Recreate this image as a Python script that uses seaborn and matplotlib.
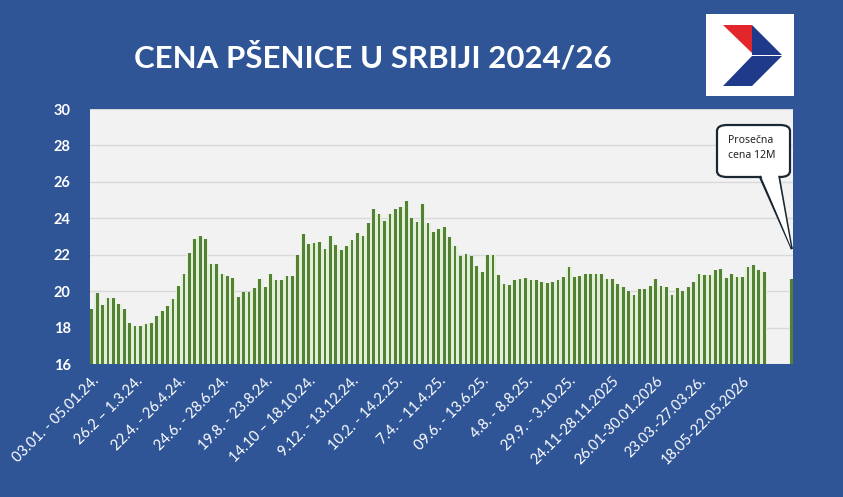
import numpy as np
import pandas as pd
import matplotlib
matplotlib.use("Agg")
import matplotlib.pyplot as plt
import seaborn as sns
from matplotlib.patches import Polygon, Rectangle, FancyBboxPatch
from matplotlib.lines import Line2D

# weekly wheat price in Serbia (din/kg)
prices = [19.0, 19.9, 19.25, 19.6, 19.6, 19.3, 19.0, 18.25, 18.1, 18.1,
          18.2, 18.25, 18.65, 18.9, 19.2, 19.55, 20.3, 20.95, 22.1, 22.85,
          23.0, 22.85, 21.5, 21.5, 20.95, 20.85, 20.7, 19.7, 19.95, 19.95,
          20.15, 20.65,
          20.25, 20.95, 20.6, 20.6, 20.85, 20.85, 22.0, 23.15, 22.6, 22.65,
          22.7, 22.3, 23.0, 22.55, 22.25, 22.5, 22.8, 23.2, 23.0, 23.75,
          24.5, 24.25, 23.85, 24.25, 24.5, 24.6, 24.95, 24.0, 23.8, 24.8,
          23.75, 23.25,
          23.4, 23.5, 22.95, 22.5, 21.95, 22.05, 21.95, 21.4, 21.05, 22.0,
          22.0, 20.9, 20.4, 20.35, 20.6, 20.65, 20.7, 20.6, 20.6, 20.5,
          20.45, 20.5, 20.6, 20.8, 21.3, 20.75, 20.85, 20.95, 20.95, 20.95,
          20.95, 20.65, 20.65,
          20.4, 20.25, 20.0, 19.8, 20.1, 20.1, 20.3, 20.65, 20.3, 20.25,
          19.8, 20.15, 20.0, 20.2, 20.5, 20.95, 20.9, 20.9, 21.15, 21.2,
          20.7, 20.95, 20.8, 20.8, 21.3, 21.45, 21.15, 21.05]
avg_12m = 20.65

week_labels = ["03.01. - 05.01.24.", "26.2 – 1.3.24.", "22.4. - 26.4.24.",
               "24.6. - 28.6.24.", "19.8. - 23.8.24.", "14.10 – 18.10.24.",
               "9.12. - 13.12.24.", "10.2. - 14.2.25.", "7.4. - 11.4.25.",
               "09.6. - 13.6.25.", "4.8. - 8.8.25.", "29.9. - 3.10.25.",
               "24.11-28.11.2025", "26.01-30.01.2026", "23.03.-27.03.26.",
               "18.05-22.05.2026"]

title = "CENA PŠENICE U SRBIJI 2024/26"
callout = "Prosečna\ncena 12M"

gap = 4
n_slots = len(prices) + gap + 1
avg_pos = n_slots - 1

df = pd.DataFrame({"pos": list(range(len(prices))) + [avg_pos],
                   "price": prices + [avg_12m]})

BG = "#2f5597"
GREEN = "#548235"

plt.rcParams["font.family"] = ["Lato", "DejaVu Sans"]

W, H = 843, 497
fig = plt.figure(figsize=(W / 100, H / 100), dpi=100, facecolor=BG)
ax = fig.add_axes([90 / W, 1 - 364 / H, (793 - 90) / W, (364 - 109) / H])
ax.set_facecolor("#f2f2f2")

# light wash behind the bars, then the bars themselves
sns.barplot(data=df, x="pos", y="price", order=range(n_slots),
            color="#e2f0d9", saturation=1, width=1.0, errorbar=None, ax=ax)
sns.barplot(data=df, x="pos", y="price", order=range(n_slots),
            color=GREEN, saturation=1, width=0.5, errorbar=None, ax=ax)

ax.set_ylim(16, 30)
ax.set_xlim(-0.32, avg_pos + 0.32)
ax.set_yticks(np.arange(16, 31, 2))
ax.yaxis.grid(True, color="#d9d9d9", linewidth=1)
ax.set_axisbelow(True)
for s in ax.spines.values():
    s.set_visible(False)

ax.set_xticks(range(0, 8 * len(week_labels), 8))
ax.set_xticklabels(week_labels, rotation=45, ha="right",
                   rotation_mode="anchor", color="white", fontsize=10.5)
ax.tick_params(axis="x", length=0, pad=7)
ax.tick_params(axis="y", length=0, pad=14, labelcolor="white", labelsize=10.5)
for t in ax.get_yticklabels():
    t.set_fontweight("bold")
ax.set_xlabel("")
ax.set_ylabel("")

fig.text(373 / W, 1 - 58 / H, title, color="white", fontsize=22.5,
         fontweight="bold", ha="center", va="center")


def px(x, y):
    return (x / W, 1 - y / H)


# logo
tf = fig.transFigure
fig.patches.append(Rectangle(px(706, 96), 88 / W, 82 / H, transform=tf,
                             facecolor="white", edgecolor="none"))
logo = [
    ([(723, 25), (752, 25), (752, 53)], "#e3262b"),
    ([(752, 25), (782, 55), (752, 55)], "#1f3a8a"),
    ([(752, 56), (782, 56), (752, 86)], "#1f3a8a"),
    ([(752, 56), (752, 86), (723, 86)], "#1f3a8a"),
]
for pts, c in logo:
    fig.patches.append(Polygon([px(*p) for p in pts], closed=True,
                               transform=tf, facecolor=c, edgecolor="none"))

# callout bubble
fig.patches.append(FancyBboxPatch(px(717, 177), (790 - 717) / W, (177 - 125) / H,
                                  boxstyle="round,pad=0,rounding_size=0.012",
                                  transform=tf, facecolor="white",
                                  edgecolor="#1b2733", linewidth=1.6))
fig.patches.append(Polygon([px(761, 175), px(778, 175), px(791, 247)],
                           closed=True, transform=tf, facecolor="white",
                           edgecolor="none", zorder=3))
for x0 in (760, 779):
    fig.lines.append(Line2D([x0 / W, 791.5 / W], [1 - 177 / H, 1 - 248 / H],
                            transform=tf, color="#1b2733", linewidth=1.6))
fig.text(728 / W, 1 - 148 / H, callout, fontsize=7.5, color="#222222",
         family=["Noto Sans", "DejaVu Sans"], ha="left", va="center",
         linespacing=1.5)

fig.savefig("out.png", dpi=100, facecolor=BG)
